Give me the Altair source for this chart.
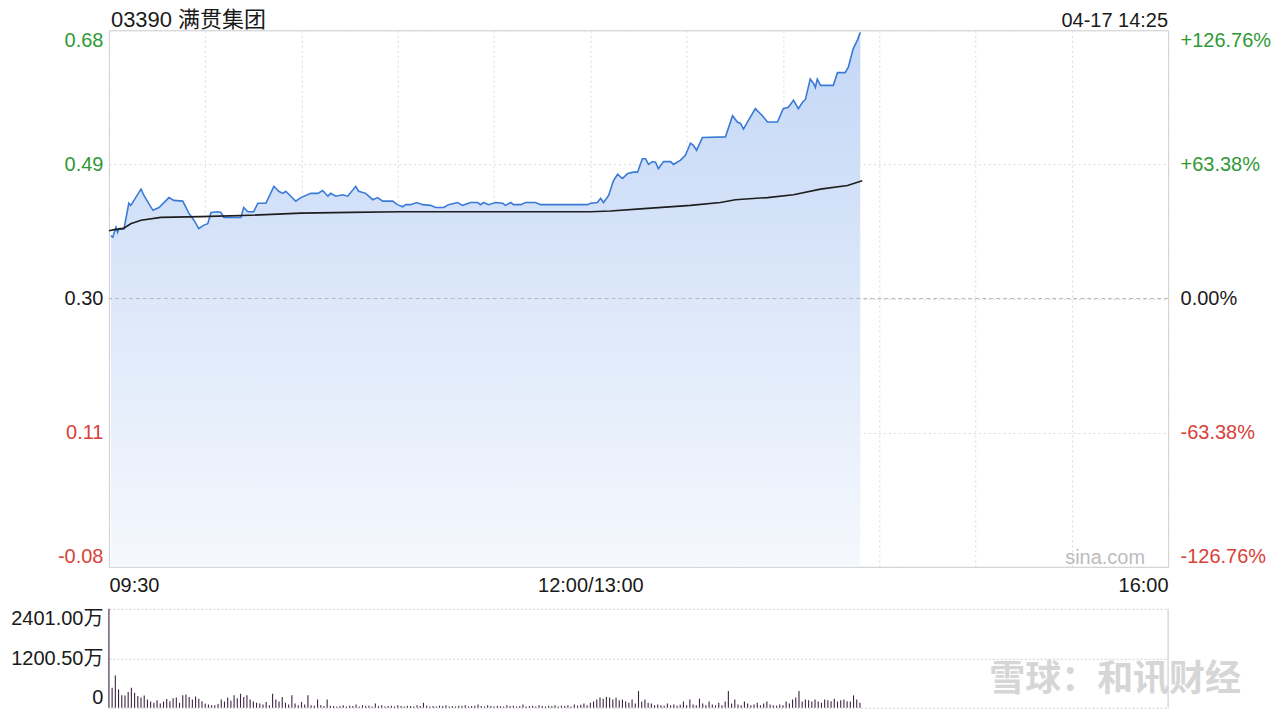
import altair as alt
import pandas as pd

FONT = "Liberation Sans, Noto Sans CJK SC, sans-serif"
GREEN = "#2f9a35"
RED = "#d9413a"
INK = "#1a1a1a"

title_text = "03390 满贯集团"
stamp_text = "04-17 14:25"
source_text = "sina.com"
watermark_text = "雪球：和讯财经"

prev_close = 0.30
price_ticks = [-0.08, 0.11, 0.30, 0.49, 0.68]
pct_labels = ["-126.76%", "-63.38%", "0.00%", "+63.38%", "+126.76%"]
session_minutes = 330
time_ticks = [0, 30, 60, 90, 120, 150, 180, 210, 240, 270, 300, 330]
time_label_at = [0, 150, 330]
time_label_txt = ["09:30", "12:00/13:00", "16:00"]
vol_ticks = [0, 1200.5, 2401]

# price line: minutes since 09:30 (lunch break removed) and price
price_min = [0.6, 1.2, 2.2, 2.7, 3.1, 4.7, 6.2, 6.8, 7.8, 10.0, 10.9, 13.7, 15.6, 18.7, 20.2,
             23.0, 24.9, 26.5, 28.0, 29.6, 30.8, 31.8, 33.9, 34.9, 35.8, 41.1, 42.0, 43.3, 45.1,
             46.4, 48.9, 51.4, 52.9, 54.2, 55.1, 57.3, 58.2, 59.8, 62.9, 65.1, 66.6, 68.2, 69.1,
             70.7, 72.8, 74.4, 76.9, 77.8, 80.0, 82.2, 83.7, 85.3, 88.4, 89.9, 91.5, 92.5, 94.0,
             95.9, 97.8, 100.2, 101.8, 104.3, 105.8, 108.6, 110.2, 112.7, 114.9, 115.8, 116.7,
             118.3, 120.5, 122.7, 123.6, 125.2, 126.1, 128.3, 129.8, 132.9, 134.5, 149.1, 150.1,
             152.2, 153.2, 154.1, 155.7, 157.2, 158.5, 160.0, 161.6, 163.4, 164.7, 166.2, 167.2,
             168.1, 169.4, 170.3, 171.2, 172.8, 175.0, 175.9, 178.1, 179.6, 181.2, 182.1, 183.1,
             184.9, 192.1, 194.3, 195.8, 196.8, 197.7, 199.2, 201.4, 203.6, 205.2, 208.3, 210.1,
             211.7, 213.3, 214.8, 216.1, 217.0, 218.5, 219.5, 220.1, 220.7, 221.7, 225.7, 227.0,
             229.4, 230.4, 231.9, 233.2, 234.1]
price_val = [0.389, 0.387, 0.401, 0.394, 0.399, 0.399, 0.435, 0.432, 0.439, 0.455, 0.446, 0.425,
             0.429, 0.443, 0.439, 0.438, 0.421, 0.411, 0.399, 0.404, 0.406, 0.422, 0.423, 0.422,
             0.415, 0.415, 0.429, 0.423, 0.423, 0.435, 0.435, 0.459, 0.452, 0.449, 0.452, 0.442,
             0.438, 0.443, 0.449, 0.449, 0.453, 0.445, 0.449, 0.445, 0.447, 0.445, 0.459, 0.452,
             0.449, 0.440, 0.443, 0.438, 0.438, 0.433, 0.430, 0.433, 0.433, 0.436, 0.433, 0.432,
             0.429, 0.429, 0.433, 0.436, 0.432, 0.436, 0.436, 0.433, 0.436, 0.433, 0.436, 0.435,
             0.432, 0.436, 0.433, 0.433, 0.436, 0.436, 0.433, 0.433, 0.435, 0.436, 0.442, 0.436,
             0.446, 0.467, 0.476, 0.470, 0.477, 0.479, 0.479, 0.498, 0.498, 0.490, 0.494, 0.493,
             0.484, 0.494, 0.494, 0.490, 0.496, 0.503, 0.520, 0.517, 0.510, 0.528, 0.529, 0.559,
             0.550, 0.548, 0.540, 0.552, 0.569, 0.559, 0.550, 0.550, 0.569, 0.571, 0.581, 0.569,
             0.578, 0.582, 0.611, 0.605, 0.599, 0.611, 0.602, 0.602, 0.620, 0.620, 0.628, 0.654,
             0.666, 0.677]

# average price line
avg_min = [0.0, 2.2, 4.4, 6.8, 10.0, 16.2, 28.6, 44.2, 59.8, 75.3, 90.9, 150.0, 156.3, 165.6,
           181.2, 190.5, 195.2, 205.2, 213.3, 221.7, 230.1, 234.7]
avg_val = [0.396, 0.398, 0.399, 0.406, 0.411, 0.415, 0.416, 0.418, 0.421, 0.422, 0.423, 0.423,
           0.424, 0.427, 0.432, 0.436, 0.440, 0.443, 0.447, 0.455, 0.460, 0.467]

# volume per minute (万)
vol = [
    2401, 485, 784, 445, 300, 299, 380, 485, 364, 283,
    250, 299, 200, 150, 120, 180, 100, 150, 210, 160,
    230, 250, 120, 300, 320, 260, 200, 270, 220, 160,
    100, 80, 60, 60, 90, 200, 150, 250, 170, 300,
    230, 340, 260, 300, 200, 150, 120, 100, 80, 140,
    60, 340, 200, 150, 260, 120, 80, 300, 100, 60,
    140, 80, 300, 60, 50, 200, 60, 40, 200, 50,
    40, 30, 40, 60, 30, 50, 40, 80, 30, 60,
    40, 50, 30, 100, 40, 60, 30, 40, 50, 30,
    60, 40, 30, 50, 40, 30, 60, 40, 120, 50,
    30, 40, 30, 50, 40, 60, 30, 40, 30, 50,
    40, 60, 30, 40, 50, 80, 40, 30, 60, 40,
    30, 50, 40, 30, 60, 40, 50, 30, 40, 80,
    30, 40, 50, 30, 60, 40, 30, 50, 40, 60,
    30, 50, 40, 60, 30, 80, 50, 70, 100, 60,
    120, 150, 200, 250, 220, 260, 250, 200, 240, 180,
    200, 150, 120, 200, 100, 404, 150, 200, 120, 100,
    60, 80, 60, 50, 100, 60, 80, 50, 70, 150,
    60, 200, 80, 60, 220, 100, 60, 150, 80, 60,
    120, 60, 150, 404, 100, 200, 80, 60, 150, 100,
    60, 80, 120, 60, 100, 150, 80, 60, 50, 80,
    60, 150, 100, 200, 250, 404, 150, 200, 180, 150,
    200, 150, 120, 200, 180, 160, 220, 150, 180, 200,
    160, 150, 300, 200, 120,
]

price_df = pd.DataFrame({"m": price_min, "p": price_val})
avg_df = pd.DataFrame({"m": avg_min, "p": avg_val})
vol_df = pd.DataFrame({"m": list(range(len(vol))), "v": vol})

time_expr = " : ".join(
    f"datum.value == {t} ? '{s}'" for t, s in zip(time_label_at, time_label_txt)
) + " : ''"
pct_expr = " : ".join(
    f"abs(datum.value - ({t})) < 0.001 ? '{s}'" for t, s in zip(price_ticks, pct_labels)
) + " : ''"
price_expr = "datum.value < 0 ? '-' + format(-datum.value, '.2f') : format(datum.value, '.2f')"
vol_expr = "datum.value == 0 ? '0' : format(datum.value, '.2f') + '万'"

label_color = {
    "condition": [
        {"test": f"datum.value > {prev_close} + 0.001", "value": GREEN},
        {"test": f"datum.value < {prev_close} - 0.001", "value": RED},
    ],
    "value": INK,
}

x_scale = alt.Scale(domain=[0, session_minutes], nice=False, zero=False)
y_scale = alt.Scale(domain=[price_ticks[0], price_ticks[-1]], nice=False, zero=False)

x_enc = alt.X(
    "m:Q", scale=x_scale,
    axis=alt.Axis(values=time_ticks, labelExpr=time_expr, grid=True, gridDash=[2, 3],
                  gridColor="#d9d9d9", ticks=False, domain=False, labelFlush=True,
                  labelPadding=9, labelFontSize=20, labelColor=INK, title=None,
                  labelOverlap=False),
)
y_enc = alt.Y(
    "p:Q", scale=y_scale,
    axis=alt.Axis(values=price_ticks, labelExpr=price_expr, labelColor=label_color, grid=True,
                  gridDash=[2, 3], gridColor="#d9d9d9", ticks=False, domain=False,
                  labelFlush=True, labelFontSize=20, labelPadding=6, minExtent=100,
                  title=None),
)

area = alt.Chart(price_df).mark_area(
    color=alt.Gradient(
        gradient="linear",
        stops=[alt.GradientStop(color="#c3d7f6", offset=0),
               alt.GradientStop(color="#f5f8fd", offset=1)],
        x1=1, x2=1, y1=0, y2=1,
    ),
    interpolate="linear",
).encode(x=x_enc, y=y_enc, y2=alt.datum(price_ticks[0]))

line = alt.Chart(price_df).mark_line(color="#3a7ad6", strokeWidth=1.6).encode(x=x_enc, y=y_enc)
avg_line = alt.Chart(avg_df).mark_line(color="#1e1e1e", strokeWidth=1.6).encode(x=x_enc, y=y_enc)

src = alt.Chart(pd.DataFrame({"t": [source_text]})).mark_text(
    align="right", baseline="middle", fontSize=20, color="#bcbcbc", font=FONT
).encode(text="t:N", x=alt.value(1037), y=alt.value(528))

ttl = alt.Chart(pd.DataFrame({"t": [title_text]})).mark_text(
    align="left", baseline="alphabetic", fontSize=22, color=INK, font=FONT
).encode(text="t:N", x=alt.value(2), y=alt.value(-3))

stamp = alt.Chart(pd.DataFrame({"t": [stamp_text]})).mark_text(
    align="right", baseline="alphabetic", fontSize=20, color=INK, font=FONT
).encode(text="t:N", x=alt.value(1060), y=alt.value(-3))

main = alt.layer(area, line, avg_line, src, ttl, stamp)

right = alt.Chart(pd.DataFrame({"p": [prev_close]})).mark_rule(
    color="#b8b8b8", strokeDash=[4, 3], strokeWidth=1
).encode(
    y=alt.Y("p:Q", scale=y_scale,
            axis=alt.Axis(orient="right", values=price_ticks, labelExpr=pct_expr,
                          labelColor=label_color, grid=False, ticks=False, domain=False,
                          labelFlush=True, labelFontSize=20, labelPadding=12, title=None))
)

price_chart = alt.layer(main, right).resolve_scale(y="independent").properties(
    width=1060, height=537
)

vol_bars = alt.Chart(vol_df).mark_rule(color="#3d2342", strokeWidth=1.1).encode(
    x=alt.X("m:Q", scale=x_scale, axis=None),
    y=alt.Y("v:Q", scale=alt.Scale(domain=[0, vol_ticks[-1]], nice=False),
            axis=alt.Axis(values=vol_ticks, labelExpr=vol_expr, grid=True, gridDash=[2, 2],
                          gridColor="#cfcfcf", ticks=False, domain=False, labelFlush=True,
                          labelFontSize=20, labelPadding=6, minExtent=100, labelColor=INK,
                          title=None)),
    y2=alt.datum(0),
)
vol_edge = alt.Chart(pd.DataFrame({"m": [session_minutes]})).mark_rule(
    color="#c4c4c4", strokeWidth=1
).encode(x=alt.X("m:Q", scale=x_scale, axis=None))

wm = alt.Chart(pd.DataFrame({"t": [watermark_text]})).mark_text(
    align="center", baseline="middle", fontSize=36, fontWeight="bold", color="#d6d6d6",
    font="Noto Sans CJK SC"
).encode(text="t:N", x=alt.value(1007), y=alt.value(71))

vol_chart = alt.layer(vol_bars, vol_edge, wm).properties(
    width=1060, height=99, view=alt.ViewConfig(stroke="transparent")
)

chart = alt.vconcat(price_chart, vol_chart, spacing=10).properties(
    padding={"left": 0, "top": 0, "right": 0, "bottom": 0}
).configure(font=FONT).configure_view(stroke="#cccccc").configure_axis(
    labelFont=FONT
)

chart.save("out.html", embed_options={"renderer": "svg", "actions": False})
